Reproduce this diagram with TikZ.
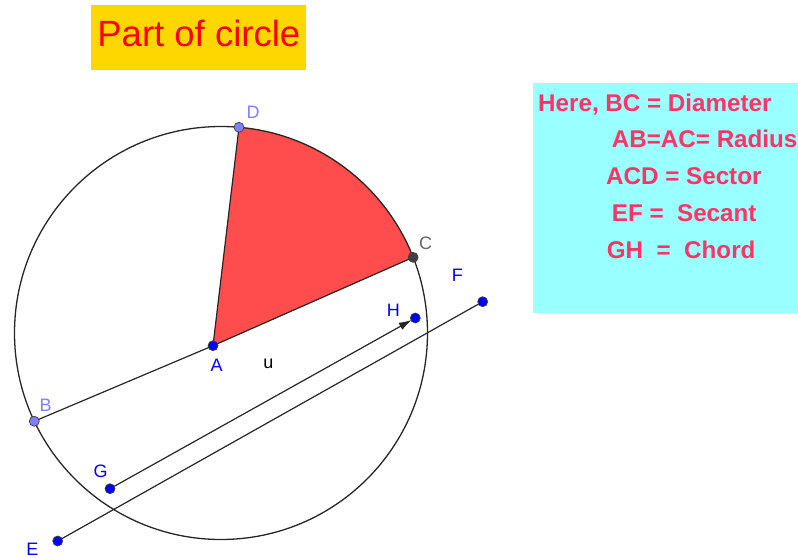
\documentclass[tikz,border=0pt]{standalone}
\usepackage{fontspec}
\setmainfont{Liberation Sans}
\usetikzlibrary{calc,arrows.meta}
\definecolor{sector}{HTML}{FF4D4D}
\definecolor{oro}{HTML}{FFD700}
\definecolor{cian}{HTML}{99FFFF}
\definecolor{rosa}{HTML}{FF3366}
\definecolor{azul}{HTML}{0000FF}
\definecolor{lila}{HTML}{7F7FFF}
\definecolor{gris}{HTML}{404040}
\tikzset{
  seg/.style={black!85,line width=1.2pt},
  lbl/.style={inner sep=0pt,font=\fontsize{18}{20}\selectfont},
  txt/.style={inner sep=0pt,anchor=base west,text=rosa,font=\fontsize{24.2}{26}\selectfont\bfseries},
  pt/.style={draw=black!75,line width=0.7pt}
}
\begin{document}
\begin{tikzpicture}[x=1pt,y=1pt,>=Latex,line cap=round]
  \useasboundingbox (0,0) rectangle (798,558);
  % --- circle and its points ---
  \def\rad{206.5}
  \coordinate (O) at (221,225);
  \coordinate (A) at (213,212.3);
  \coordinate (B) at ($(O)+(205.3:\rad)$);
  \coordinate (C) at ($(O)+(21.5:\rad)$);
  \coordinate (D) at ($(O)+(85:\rad)$);
  \coordinate (E) at (57.7,17);
  \coordinate (F) at (482.7,256.3);
  \coordinate (G) at (110,69.3);
  \coordinate (H) at (415.3,240);
  % --- sector ACD ---
  \fill[sector] (A) -- (C) arc[start angle=21.5,end angle=85,radius=\rad] -- cycle;
  \draw[black!85,line width=1.3pt] (O) circle (\rad);
  % --- radii, secant, chord ---
  \draw[seg] (A) -- (B) (A) -- (C) (A) -- (D);
  \draw[seg] (E) -- (F);
  \draw[seg,-{Latex[length=13pt,width=8pt]},shorten >=4pt] (G) -- (H);
  % --- points ---
  \foreach \p/\c in {A/azul,E/azul,F/azul,G/azul,H/azul,B/lila,D/lila,C/gris}{
    \fill[\c,pt] (\p) circle (5);
  }
  % --- labels ---
  \node[lbl,text=lila] (lD) at (253,445.7) {D};
  \node[lbl,text=gris!80] (lC) at (425.7,314.7) {C};
  \node[lbl,text=azul] (lF) at (457.3,283) {F};
  \node[lbl,text=azul] (lH) at (393.3,248) {H};
  \node[lbl,text=azul] (lA) at (216.7,193) {A};
  \node[lbl,text=lila] (lB) at (45.7,152.3) {B};
  \node[lbl,text=azul] (lG) at (100.7,86.3) {G};
  \node[lbl,text=azul] (lE) at (32.3,9) {E};
  \node[lbl,text=black] (lu) at (268.3,194) {u};
  % --- title ---
  \fill[oro] (90.7,488) rectangle (306,553);
  \node[inner sep=0pt,anchor=base west,text=red,font=\fontsize{36.5}{40}\selectfont] (title) at (97.2,511.3) {Part of circle};
  % --- notes box ---
  \fill[cian] (532.7,245) rectangle (800,475.3);
  \node[txt] (t1) at (538,446) {Here, BC = Diameter};
  \node[txt] (t2) at (611.7,410) {AB=AC= Radius};
  \node[txt] (t3) at (606,373) {ACD = Sector};
  \node[txt] (t4) at (611.7,336.3) {EF =\ \ Secant};
  \node[txt] (t5) at (606.7,299.7) {GH\ \ =\ \ Chord};
\end{tikzpicture}
\end{document}
